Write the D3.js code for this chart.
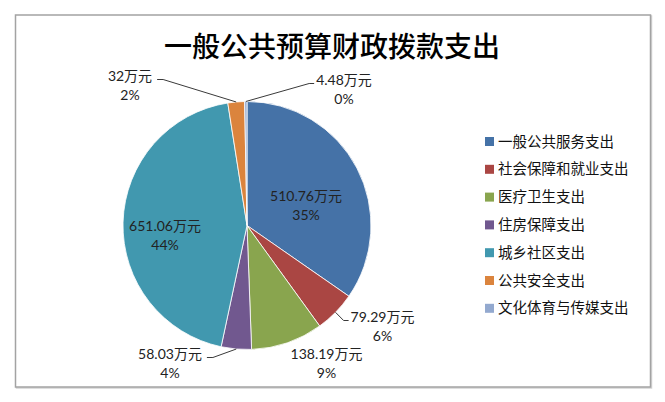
<!DOCTYPE html>
<html><head><meta charset="utf-8">
<script src="https://cdn.jsdelivr.net/npm/d3@7"></script>
<style>html,body{margin:0;padding:0;background:#fff;} svg{display:block}</style>
</head><body>
<script>
const title = "一般公共预算财政拨款支出";
const categories = ["一般公共服务支出","社会保障和就业支出","医疗卫生支出","住房保障支出","城乡社区支出","公共安全支出","文化体育与传媒支出"];
const values = [510.76, 79.29, 138.19, 58.03, 651.06, 32, 4.48];
const valueLabels = ["510.76万元","79.29万元","138.19万元","58.03万元","651.06万元","32万元","4.48万元"];
const percentLabels = ["35%","6%","9%","4%","44%","2%","0%"];
const colors = ["#4572A7","#AA4643","#89A54E","#71588F","#4198AF","#DB843D","#93A9CF"];

const W = 665, H = 402, cx = 247, cy = 225.5, R = 124;
// label layout (offset of first text line centre from pie centre) and leader side
const labelLayout = [
  {dx: 59,   dy: -30.5,  leader: null},
  {dx: 135.5,dy: 90.5,   leader: "left"},
  {dx: 79.5, dy: 127.5,  leader: null},
  {dx: -77,  dy: 127.5,  leader: "right"},
  {dx: -82,  dy: -0.5,   leader: null},
  {dx: -117, dy: -150.5, leader: "right"},
  {dx: 97,   dy: -146.5, leader: "left"}
];

const svg = d3.select("body").append("svg").attr("width", W).attr("height", H);

// chart frame
svg.append("rect").attr("x", 16.5).attr("y", 16).attr("width", 635).attr("height", 372)
  .attr("fill", "none").attr("stroke", "#d4d4d4").attr("stroke-width", 1.5);
svg.append("rect").attr("x", 15.5).attr("y", 15).attr("width", 635).attr("height", 372)
  .attr("fill", "#fff").attr("stroke", "#a3a3a3").attr("stroke-width", 1.5);

svg.append("text").attr("x", 332).attr("y", 45).attr("text-anchor", "middle")
  .attr("dominant-baseline", "central")
  .style("font-family", "'Noto Sans CJK SC', sans-serif").style("font-size", "28px")
  .style("font-weight", 500).attr("fill", "#000").text(title);

const color = d3.scaleOrdinal().domain(categories).range(colors);
const pie = d3.pie().sort(null).value(d => d.value);
const data = categories.map((c, i) => ({cat: c, value: values[i], i}));
const arcs = pie(data);
const arc = d3.arc().innerRadius(0).outerRadius(R);

const g = svg.append("g").attr("transform", `translate(${cx},${cy})`);
g.selectAll("path.slice").data(arcs).join("path").attr("class", "slice")
  .attr("d", arc).attr("fill", d => color(d.data.cat))
  .attr("stroke", "#fff").attr("stroke-width", 0.8).attr("stroke-linejoin", "round");

const lblFont = "Lato, 'Noto Sans CJK SC', sans-serif";
arcs.forEach((a, i) => {
  const L = labelLayout[i];
  const t = g.append("text").attr("text-anchor", "middle")
    .style("font-family", lblFont).style("font-size", "14px").attr("fill", "#222");
  const t1 = t.append("tspan").attr("x", L.dx).attr("y", L.dy).attr("dominant-baseline", "central").text(valueLabels[i]);
  t.append("tspan").attr("x", L.dx).attr("y", L.dy + 19.5).attr("dominant-baseline", "central").text(percentLabels[i]);
  if (L.leader) {
    const w = t1.node().getComputedTextLength();
    const mid = (a.startAngle + a.endAngle) / 2;
    const sx = R * Math.sin(mid), sy = -R * Math.cos(mid);
    const ly = L.dy + 4.5;
    let ex, bx;
    if (L.leader === "left") { ex = L.dx - w / 2 - 2; bx = ex - 5; }
    else { ex = L.dx + w / 2 + 5; bx = ex + 6; }
    g.append("path").attr("d", d3.line()([[sx, sy], [bx, ly], [ex, ly]]))
      .attr("fill", "none").attr("stroke", "#3a3a3a").attr("stroke-width", 1);
  }
});

// legend
const leg = svg.append("g").attr("transform", "translate(485,140)");
const rows = leg.selectAll("g").data(categories).join("g")
  .attr("transform", (d, i) => `translate(0,${i * 27.8})`);
rows.append("rect").attr("x", 0).attr("y", -3).attr("width", 9).attr("height", 9)
  .attr("fill", d => color(d));
rows.append("text").attr("x", 13).attr("y", 0).attr("dominant-baseline", "central")
  .style("font-family", "'Noto Sans CJK SC', sans-serif").style("font-size", "14.5px")
  .attr("fill", "#111").text(d => d);
</script>
</body></html>
